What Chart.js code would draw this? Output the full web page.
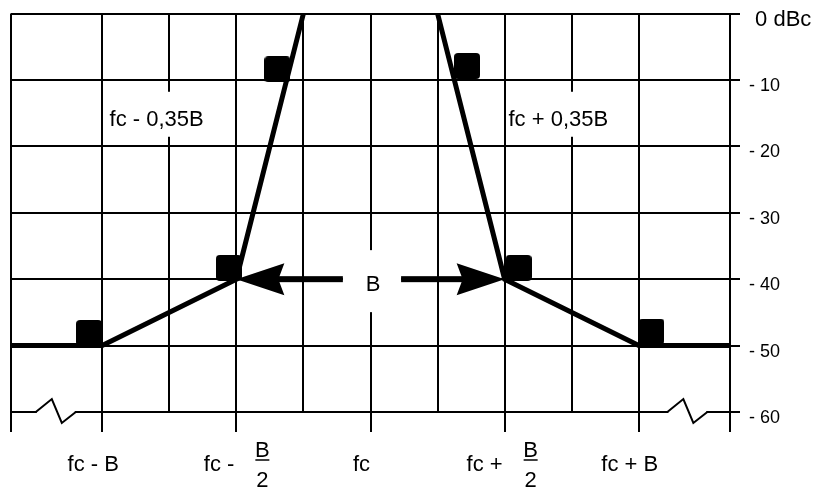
<!DOCTYPE html>
<html>
<head>
<meta charset="utf-8">
<script src="https://cdn.jsdelivr.net/npm/chart.js@4.4.0/dist/chart.umd.min.js"></script>
<style>
  html, body { margin: 0; padding: 0; background: #fff; }
  #wrap { width: 816px; height: 493px; }
</style>
</head>
<body>
<div id="wrap"><canvas id="mask" width="816" height="493"></canvas></div>
<script>
// x in units of B, centred on fc; y in dBc
const xGrid = [-1.34, -1, -0.75, -0.5, -0.25, 0, 0.25, 0.5, 0.75, 1, 1.34];
const xTicked = [-1.34, -1, -0.5, 0, 0.5, 1, 1.34];
const xLabelPos = [-1, -0.5, 0, 0.5, 1];
const xLabelText = ['fc - B', 'fc -', 'fc', 'fc +', 'fc + B'];
const xLabelFrac = [false, true, false, true, false];

const maskLeftX = [-1.34, -1, -0.5, -0.25];
const maskLeftY = [-50, -50, -40, 0];
const maskRightX = [0.25, 0.5, 1, 1.34];
const maskRightY = [0, -40, -50, -50];

const markerX = [-1.049, -0.528, -0.347, 0.360, 0.552, 1.047];
const markerY = [-48.1, -38.3, -8.4, -7.9, -38.3, -47.9];

const noteText = ['fc - 0,35B', 'fc + 0,35B'];
const noteX = [-0.797, 0.70];
const noteY = [-16, -16];

const bandEdges = [-0.5, 0.5];
const bandShaftEnds = [-0.103, 0.114];
const bandLevel = -40;
const bandLabel = 'B';
const bandLabelX = 0.01;
const bandLabelY = -40.9;

const breakX = [-1.173, 1.181];
const breakLevel = -60;

const FONT = "'Liberation Sans', Arial, sans-serif";
const BIG = '22px ' + FONT;

const toPts = (xs, ys) => xs.map((x, i) => ({ x: x, y: ys[i] }));

// small black square with rounded corners, used as point style
const sq = document.createElement('canvas');
sq.width = 26; sq.height = 26;
(function () {
  const c = sq.getContext('2d');
  c.fillStyle = '#000';
  c.beginPath();
  c.roundRect(0, 0, 26, 26, 4);
  c.fill();
})();

const decor = {
  id: 'decor',
  beforeDatasetsDraw(chart) {
    const ctx = chart.ctx, xs = chart.scales.x, ys = chart.scales.y;
    ctx.save();
    ctx.fillStyle = '#fff';
    ctx.font = BIG;
    // white boxes behind the annotations
    noteText.forEach((t, i) => {
      const w = ctx.measureText(t).width;
      const cx = xs.getPixelForValue(noteX[i]), cy = ys.getPixelForValue(noteY[i]);
      ctx.fillRect(cx - w / 2 - 2, cy - 28, w + 4, 45);
    });
    const by = ys.getPixelForValue(bandLabelY);
    const s0 = xs.getPixelForValue(bandShaftEnds[0]), s1 = xs.getPixelForValue(bandShaftEnds[1]);
    ctx.fillRect(s0, by - 35, s1 - s0, 62);
    // axis breaks on the -60 line
    const yb = ys.getPixelForValue(breakLevel);
    breakX.forEach(v => {
      const cx = xs.getPixelForValue(v);
      ctx.fillStyle = '#fff';
      ctx.fillRect(cx - 19, yb - 3, 38, 6);
      ctx.strokeStyle = '#000';
      ctx.lineWidth = 2;
      ctx.beginPath();
      ctx.moveTo(cx - 20, yb);
      ctx.lineTo(cx - 4, yb - 13);
      ctx.lineTo(cx + 6, yb + 11);
      ctx.lineTo(cx + 20, yb);
      ctx.stroke();
    });
    ctx.restore();
  },
  afterDatasetsDraw(chart) {
    const ctx = chart.ctx, xs = chart.scales.x, ys = chart.scales.y;
    ctx.save();
    ctx.fillStyle = '#000';
    ctx.strokeStyle = '#000';
    const ya = ys.getPixelForValue(bandLevel);
    // double arrow marking the bandwidth B
    bandEdges.forEach((e, i) => {
      const tip = xs.getPixelForValue(e);
      const end = xs.getPixelForValue(bandShaftEnds[i]);
      const d = i === 0 ? 1 : -1;
      ctx.beginPath();
      ctx.moveTo(tip, ya);
      ctx.lineTo(tip + d * 48, ya - 16);
      ctx.lineTo(tip + d * 42, ya);
      ctx.lineTo(tip + d * 48, ya + 16);
      ctx.closePath();
      ctx.fill();
      ctx.fillRect(Math.min(tip + d * 40, end), ya - 3, Math.abs(end - (tip + d * 40)), 6);
    });
    ctx.font = BIG;
    ctx.textAlign = 'center';
    ctx.textBaseline = 'middle';
    ctx.fillText(bandLabel, xs.getPixelForValue(bandLabelX), ys.getPixelForValue(bandLabelY));
    noteText.forEach((t, i) => {
      ctx.fillText(t, xs.getPixelForValue(noteX[i]), ys.getPixelForValue(noteY[i]));
    });
    ctx.restore();
  },
  afterDraw(chart) {
    // x axis labels, two of them with a B/2 fraction
    const ctx = chart.ctx, xs = chart.scales.x;
    ctx.save();
    ctx.fillStyle = '#000';
    ctx.strokeStyle = '#000';
    ctx.font = BIG;
    ctx.textBaseline = 'middle';
    xLabelPos.forEach((v, i) => {
      const px = xs.getPixelForValue(v);
      if (!xLabelFrac[i]) {
        ctx.textAlign = 'center';
        ctx.fillText(xLabelText[i], px - 9, 465);
      } else {
        ctx.textAlign = 'right';
        ctx.fillText(xLabelText[i], px - 2, 465);
        ctx.textAlign = 'center';
        ctx.fillText('B', px + 26, 451);
        ctx.fillText('2', px + 26, 481);
        ctx.lineWidth = 1.5;
        ctx.beginPath();
        ctx.moveTo(px + 19, 460);
        ctx.lineTo(px + 33, 460);
        ctx.stroke();
      }
    });
    ctx.restore();
  }
};

new Chart(document.getElementById('mask'), {
  type: 'scatter',
  data: {
    datasets: [
      {
        data: toPts(markerX, markerY),
        pointStyle: sq,
        pointRadius: 13,
        pointHoverRadius: 13,
        showLine: false
      },
      {
        data: toPts(maskLeftX, maskLeftY),
        showLine: true,
        borderColor: '#000',
        borderWidth: 5,
        pointRadius: 0,
        clip: false
      },
      {
        data: toPts(maskRightX, maskRightY),
        showLine: true,
        borderColor: '#000',
        borderWidth: 5,
        pointRadius: 0,
        clip: false
      }
    ]
  },
  options: {
    responsive: false,
    animation: false,
    events: [],
    layout: { autoPadding: false, padding: { left: 11, top: 13.5, right: 0, bottom: 0 } },
    plugins: { legend: { display: false }, tooltip: { enabled: false } },
    scales: {
      x: {
        type: 'linear',
        min: -1.34,
        max: 1.34,
        afterBuildTicks: (s) => { s.ticks = xGrid.map(v => ({ value: v })); },
        afterFit: (s) => { s.height = 81; s.paddingLeft = 0; s.paddingRight = 0; },
        ticks: { display: false },
        border: { display: false },
        grid: {
          color: '#000',
          lineWidth: 2,
          tickLength: 20,
          tickWidth: 2,
          tickColor: (c) => xTicked.includes(c.tick.value) ? '#000' : 'rgba(0,0,0,0)'
        }
      },
      y: {
        position: 'right',
        min: -60,
        max: 0,
        afterFit: (s) => { s.width = 86; s.paddingTop = 0; s.paddingBottom = 0; },
        ticks: {
          stepSize: 10,
          color: '#000',
          padding: 9,
          labelOffset: 6,
          font: (c) => ({ family: FONT, size: c.tick && c.tick.value === 0 ? 22 : 18 }),
          callback: (v) => v === 0 ? ' 0 dBc' : '- ' + Math.abs(v)
        },
        border: { display: false },
        grid: { color: '#000', lineWidth: 2, tickLength: 10, tickWidth: 2 }
      }
    }
  },
  plugins: [decor]
});
</script>
</body>
</html>
